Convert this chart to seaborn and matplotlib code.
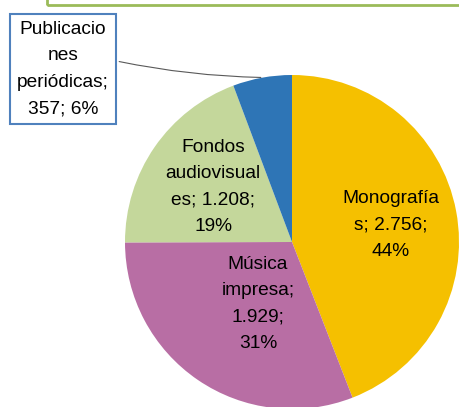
import matplotlib
matplotlib.use("Agg")
import matplotlib.pyplot as plt
import seaborn as sns
from matplotlib.patches import Rectangle

# datos
categorias = ["Monografías", "Música impresa", "Fondos audiovisuales", "Publicaciones periódicas"]
valores = [2756, 1929, 1208, 357]
etiquetas = ["Monografía\ns; 2.756;\n44%",
             "Música\nimpresa;\n1.929;\n31%",
             "Fondos\naudiovisual\nes; 1.208;\n19%",
             "Publicacio\nnes\nperiódicas;\n357; 6%"]
colores = ["#F5C000", "#B86EA4", "#C4D79B", "#2E75B6"]

sns.set_theme(style="white")
plt.rcParams['font.family'] = ['Liberation Sans', 'DejaVu Sans']
plt.rcParams['text.color'] = 'black'

W, H = 459, 407
fig = plt.figure(figsize=(W / 100, H / 100), dpi=100)

# marco verde (caja del título, cortada arriba)
fig.patches.append(Rectangle((47 / W, 1 - 5 / H), 1.0, 0.2, transform=fig.transFigure,
                             fill=False, edgecolor="#9BBB59", linewidth=2, clip_on=False))

cx, cy, r = 292, 242, 167
ax = fig.add_axes([(cx - r) / W, (H - cy - r) / H, 2 * r / W, 2 * r / H])
ax.pie(valores, colors=colores, startangle=90, counterclock=False, radius=1,
       wedgeprops=dict(linewidth=0))
ax.set_xlim(-1, 1)
ax.set_ylim(-1, 1)
ax.set_aspect("equal")
ax.axis("off")

fs = 13.8
ls = 1.72
ax.text(0.593, 0.10, etiquetas[0], ha="center", va="center", fontsize=fs, linespacing=ls)
ax.text(-0.204, -0.37, etiquetas[1], ha="center", va="center", fontsize=fs, linespacing=ls)
ax.text(-0.473, 0.33, etiquetas[2], ha="center", va="center", fontsize=fs, linespacing=ls)

# etiqueta externa con recuadro y línea guía
ax.annotate(etiquetas[3], xy=(-0.17, 0.985), xytext=(-1.371, 1.036),
            ha="center", va="center", fontsize=fs, linespacing=ls,
            bbox=dict(boxstyle="square,pad=0.35", fc="white", ec="#4F81BD", lw=1.5),
            arrowprops=dict(arrowstyle="-", color="#595959", lw=0.8, relpos=(1.0, 0.6),
                            connectionstyle="arc3,rad=0.05"),
            annotation_clip=False)

fig.savefig("out.png", dpi=100)
